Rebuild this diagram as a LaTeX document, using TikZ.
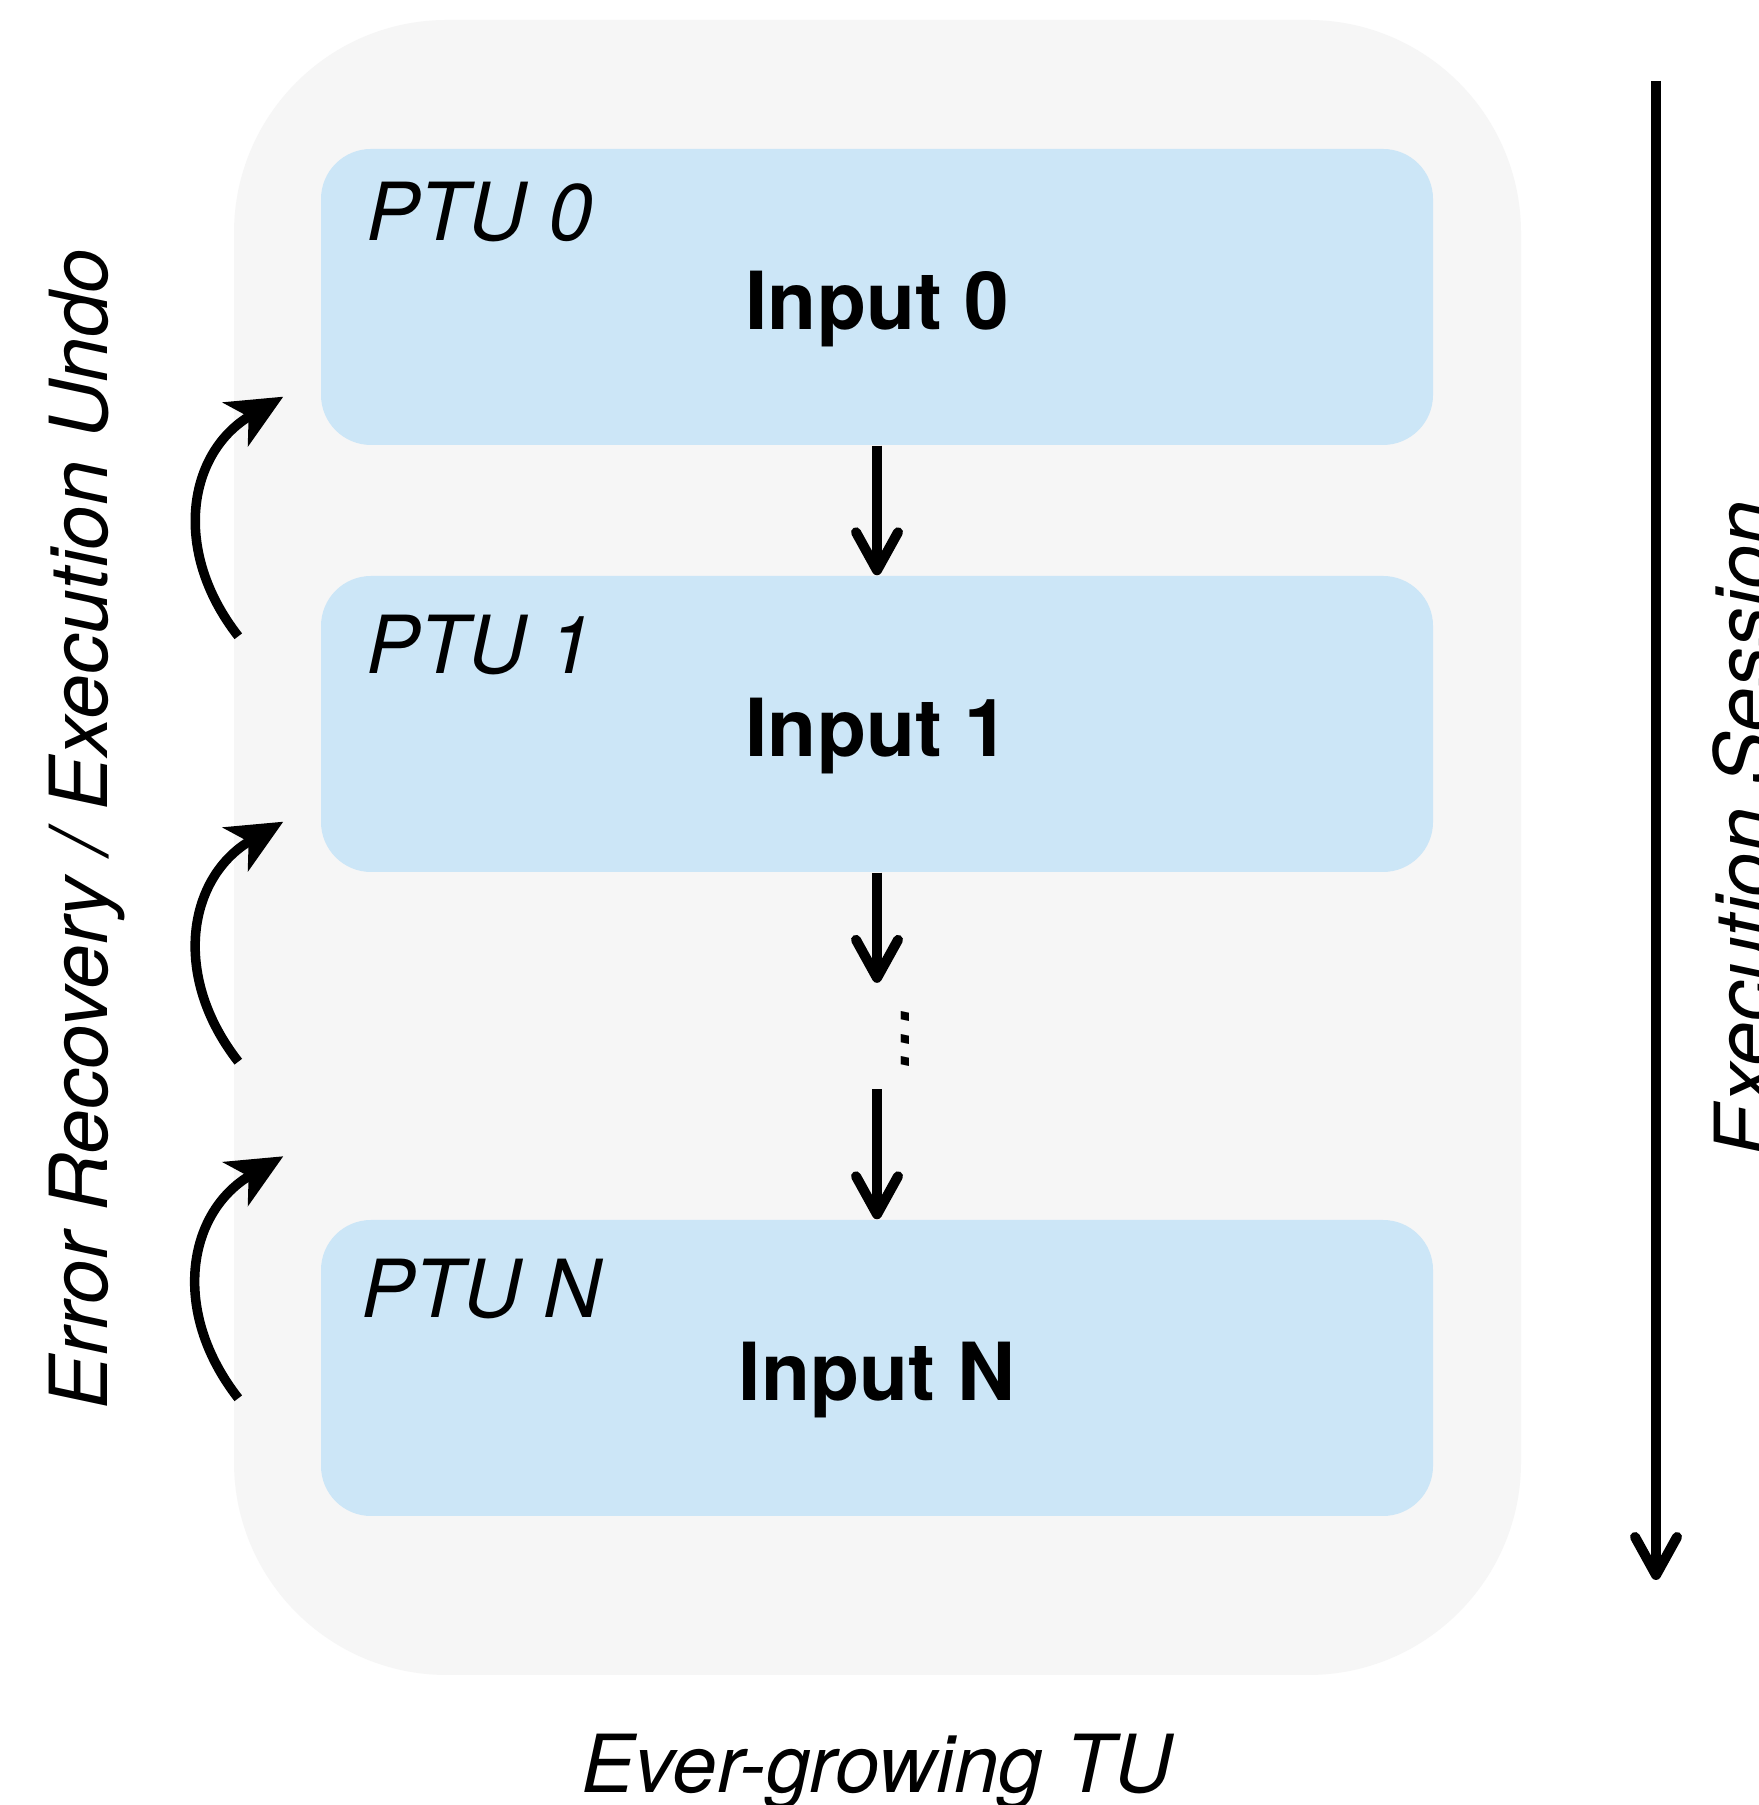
\documentclass[tikz,border=0pt]{standalone}
\usepackage{fontspec}
\setmainfont{TeX Gyre Heros}
\usetikzlibrary{arrows.meta,positioning}
\definecolor{tugray}{RGB}{246,246,246}
\definecolor{ptublue}{RGB}{204,230,247}
\newcommand{\labelsize}{\fontsize{22.8pt}{27pt}\selectfont}
\tikzset{
  tubox/.style={fill=tugray,rounded corners=2.13cm,minimum width=12.87cm,minimum height=16.55cm,inner sep=0pt},
  ptubox/.style={fill=ptublue,rounded corners=0.5cm,minimum width=11.12cm,minimum height=2.96cm,inner sep=0pt},
  ptuname/.style={anchor=base west,inner sep=0pt,font=\labelsize\itshape},
  inputname/.style={anchor=base,inner sep=0pt,font=\labelsize\bfseries},
  sidelabel/.style={anchor=base,rotate=90,inner sep=0pt,font=\labelsize\itshape},
  flow/.style={line width=0.1cm,-{Straight Barb[length=0.38cm,width=0.42cm,round]}},
  undo/.style={line width=0.095cm,-{Stealth[length=0.55cm,width=0.5cm,inset=0.15cm]},looseness=1.15},
}
\begin{document}
\begin{tikzpicture}
	\useasboundingbox (0,0) rectangle (17.58,18.05);
	\fill[white] (0,0) rectangle (17.58,18.05);
	% the ever-growing TU
	\node[tubox] (tu) at (8.775,9.575) {};
	\node[anchor=base,inner sep=0pt,font=\labelsize\itshape] (tuname) at (8.77,0.13) {Ever-growing TU};
	% PTUs
	\node[ptubox] (box0) at (8.77,15.08) {};
	\node[ptubox] (box1) at (8.77,10.81) {};
	\node[ptubox] (boxN) at (8.77,4.37) {};
	\node[ptuname] (ptu0) at ([shift={(0.45,-0.92)}]box0.north west) {PTU 0};
	\node[ptuname] (ptu1) at ([shift={(0.45,-0.98)}]box1.north west) {PTU 1};
	\node[ptuname] (ptuN) at ([shift={(0.40,-0.98)}]boxN.north west) {PTU N};
	\node[inputname] (in0) at ([yshift=-0.33cm]box0.center) {Input 0};
	\node[inputname] (in1) at ([yshift=-0.33cm]box1.center) {Input 1};
	\node[inputname] (inN) at ([yshift=-0.33cm]boxN.center) {Input N};
	\node[rotate=90,inner xsep=0.19cm,inner ysep=0pt,text height=0.74cm,text depth=0.1cm,font=\labelsize\itshape] (dots) at (8.77,7.69) {...};
	% incremental inputs
	\draw[flow] (box0) -- (box1);
	\draw[flow] (box1) -- (dots);
	\draw[flow] (dots) -- (boxN);
	% undo arrows
	\draw[undo] ([shift={(-0.82,-0.61)}]box1.north west) to[out=128,in=210] ([shift={(-0.37,0.49)}]box0.south west);
	\draw[undo] ([shift={(-0.82,-1.89)}]box1.south west) to[out=128,in=210] ([shift={(-0.37,0.51)}]box1.south west);
	\draw[undo] ([shift={(-0.82,-1.79)}]boxN.north west) to[out=128,in=210] ([shift={(-0.37,0.63)}]boxN.north west);
	\node[sidelabel] (undoname) at (1.07,9.76) {Error Recovery / Execution Undo};
	% session arrow
	\coordinate (sesstop) at (16.56,17.24);
	\coordinate (sessend) at (16.56,2.25);
	\draw[flow] (sesstop) -- (sessend);
	\node[sidelabel] (sessname) at (17.72,9.76) {Execution Session};
\end{tikzpicture}
\end{document}
